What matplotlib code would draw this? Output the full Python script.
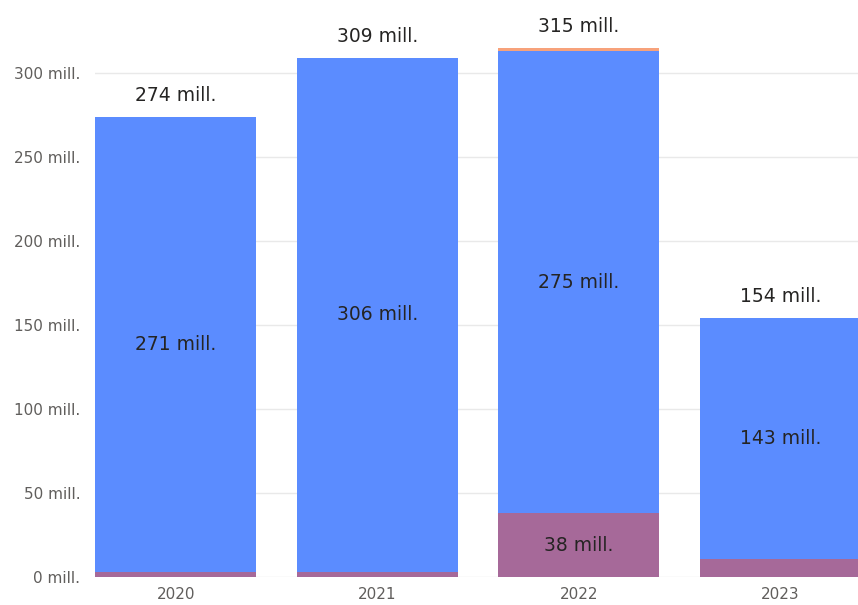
import matplotlib.pyplot as plt
import numpy as np

years = ["2020", "2021", "2022", "2023"]
purple_vals = [3, 3, 38, 11]
blue_vals = [271, 306, 275, 143]
orange_vals = [0, 0, 2, 0]
totals = [274, 309, 315, 154]
yticks = [0, 50, 100, 150, 200, 250, 300]

blue = "#5B8CFF"
purple = "#A66999"
orange = "#F7A27B"

plt.rcParams['font.family'] = ['DejaVu Sans']

fig = plt.figure(figsize=(8.58, 6.05), dpi=100)
ax = fig.add_axes([95 / 858, 28 / 605, 1 - 95 / 858, 1 - 28 / 605])

x = np.arange(len(years))
w = 0.8
ax.bar(x, purple_vals, w, color=purple, zorder=2)
ax.bar(x, blue_vals, w, bottom=purple_vals, color=blue, zorder=2)
bottom2 = np.array(purple_vals) + np.array(blue_vals)
ax.bar(x, orange_vals, w, bottom=bottom2, color=orange, zorder=2)

# segment labels
for i in range(len(years)):
    ax.text(x[i], purple_vals[i] + blue_vals[i] / 2, f"{blue_vals[i]} mill.",
            ha="center", va="center", fontsize=13.5, color="#252423")
    if purple_vals[i] > 20:
        ax.text(x[i], purple_vals[i] / 2, f"{purple_vals[i]} mill.",
                ha="center", va="center", fontsize=13.5, color="#252423")
    ax.annotate(f"{totals[i]} mill.", (x[i], totals[i]), xytext=(0, 11.5),
                textcoords="offset points", ha="center", va="baseline",
                fontsize=13.5, color="#252423")

ax.set_xlim(-0.4, 3.385)
ax.set_ylim(0, 343.5)
ax.set_yticks(yticks)
ax.set_yticklabels([f"{v} mill." for v in yticks])
ax.set_xticks(x)
ax.set_xticklabels(years)
ax.tick_params(axis="both", length=0, labelsize=11, colors="#605E5C")
ax.tick_params(axis="y", pad=10.5)
ax.tick_params(axis="x", pad=7)
for s in ax.spines.values():
    s.set_visible(False)
ax.grid(axis="y", color="#E9E9E9", linewidth=1, zorder=0)
ax.set_axisbelow(True)

fig.savefig("out.png", dpi=100)
